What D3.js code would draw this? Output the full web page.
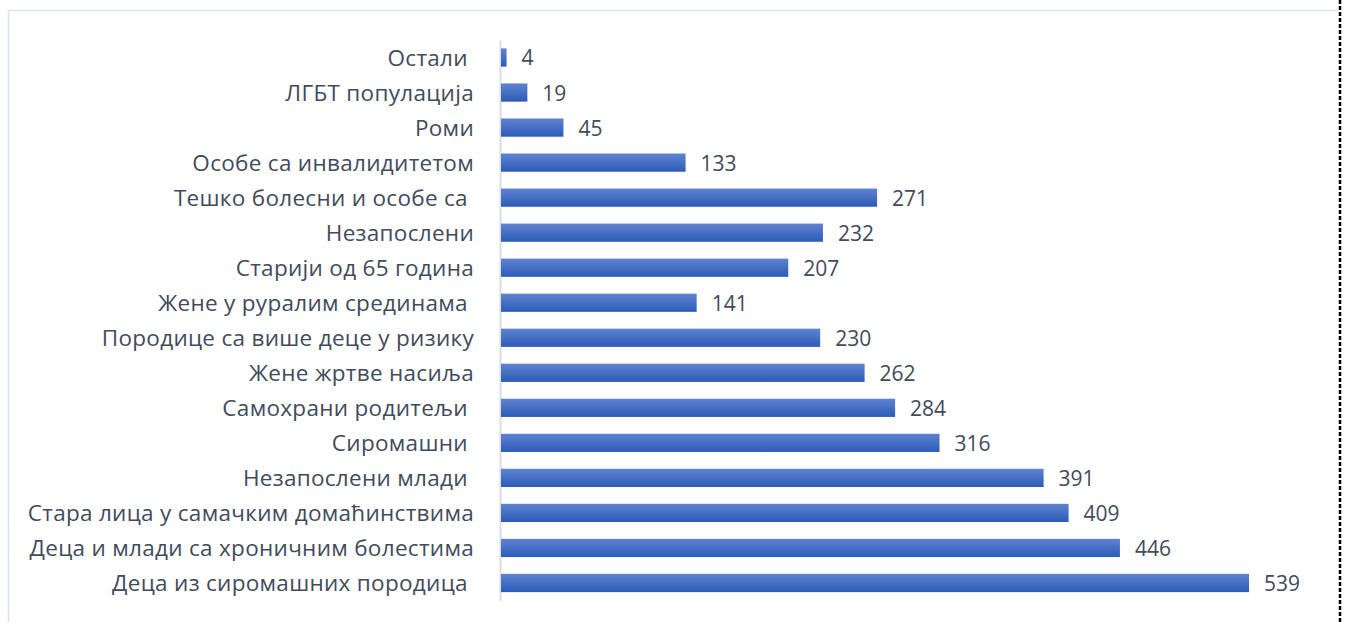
<!DOCTYPE html>
<html><head><meta charset="utf-8">
<script src="https://cdn.jsdelivr.net/npm/d3@7"></script>
<style>html,body{margin:0;padding:0;background:#fff;}svg{display:block;}</style>
</head><body>
<script>
const categories = [
  "Остали ", "ЛГБТ популација", "Роми", "Особе са инвалидитетом",
  "Тешко болесни и особе са ", "Незапослени", "Старији од 65 година",
  "Жене у руралим срединама ", "Породице са више деце у ризику",
  "Жене жртве насиља", "Самохрани родитељи ", "Сиромашни ",
  "Незапослени млади ", "Стара лица у самачким домаћинствима",
  "Деца и млади са хроничним болестима", "Деца из сиромашних породица "
];
const values = [4, 19, 45, 133, 271, 232, 207, 141, 230, 262, 284, 316, 391, 409, 446, 539];

const W = 1352, H = 622;
const svg = d3.select("body").append("svg").attr("width", W).attr("height", H);

const defs = svg.append("defs");
const grad = defs.append("linearGradient").attr("id", "barGrad")
  .attr("x1", 0).attr("y1", 0).attr("x2", 0).attr("y2", 1);
grad.append("stop").attr("offset", "0%").attr("stop-color", "#5f83d1");
grad.append("stop").attr("offset", "100%").attr("stop-color", "#2c5bb8");

// frame
svg.append("line").attr("x1", 8).attr("x2", 1338).attr("y1", 10.5).attr("y2", 10.5)
  .attr("stroke", "#dde2ea").attr("stroke-width", 1.5);
svg.append("line").attr("x1", 8.5).attr("x2", 8.5).attr("y1", 10).attr("y2", H)
  .attr("stroke", "#dde2ea").attr("stroke-width", 1.5);
svg.append("line").attr("x1", 1340).attr("x2", 1340).attr("y1", 0).attr("y2", H)
  .attr("stroke", "#000").attr("stroke-width", 2.5).attr("stroke-dasharray", "4,2");

const x = d3.scaleLinear().domain([0, 539]).range([501, 1249]);
const y = d3.scaleBand().domain(categories).range([40, 600.5]).paddingInner(0.48).paddingOuter(0.24);

// axis
const yAxis = d3.axisLeft(y).tickSize(0).tickPadding(26);
const ga = svg.append("g").attr("transform", "translate(500,0)").call(yAxis);
ga.select(".domain").attr("stroke", "#d9dde5").attr("stroke-width", 2);
ga.selectAll("text")
  .attr("font-family", "'Open Sans', sans-serif")
  .attr("font-size", 22.5)
  .attr("letter-spacing", 0.3)
  .attr("fill", "#414b5b")
  .style("white-space", "pre")
  .attr("dy", "0.36em");

const data = categories.map((c, i) => ({c, v: values[i]}));

svg.append("g").selectAll("rect").data(data).join("rect")
  .attr("x", x(0))
  .attr("y", d => y(d.c))
  .attr("width", d => x(d.v) - x(0))
  .attr("height", y.bandwidth())
  .attr("fill", "url(#barGrad)");

svg.append("g").selectAll("text").data(data).join("text")
  .attr("x", d => x(d.v) + 15)
  .attr("y", d => y(d.c) + y.bandwidth() / 2)
  .attr("dy", "0.38em")
  .attr("font-family", "'Open Sans', sans-serif")
  .attr("font-size", 21)
  .attr("fill", "#414b5b")
  .text(d => d.v);
</script>
</body></html>
